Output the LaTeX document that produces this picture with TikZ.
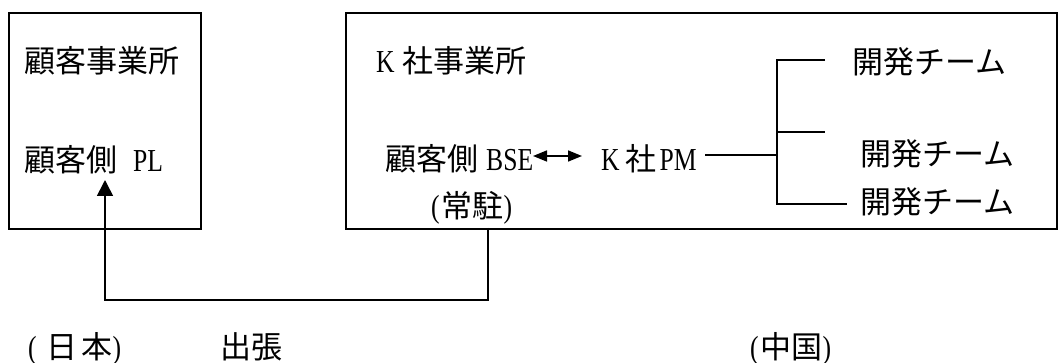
\documentclass[tikz,border=0pt]{standalone}
\usepackage{fontspec}
\setmainfont{Liberation Serif}
\newfontfamily\jp{Noto Sans CJK JP}
\newfontfamily\lat[FakeStretch=0.8]{Liberation Serif}
\newcommand\latsz{\lat\fontsize{32}{38}\selectfont}
\newcommand\J[1]{{\jp\fontsize{31}{36}\selectfont #1}}
\usetikzlibrary{arrows.meta}
\begin{document}
\begin{tikzpicture}[x=1pt,y=-1pt,
  frame/.style={draw,line width=1.6pt,inner sep=0,anchor=north west},
  lbl/.style={inner sep=0,anchor=base west},
  conn/.style={line width=1.6pt},
  uparrow/.style={conn,-{Triangle[width=16pt,length=16pt]}},
  dblarrow/.style={conn,{Triangle[width=11pt,length=14pt]}-{Triangle[width=11pt,length=14pt]}}
]
\useasboundingbox (0,0) rectangle (1059,363);
% boxes
\node[frame,minimum width=192pt,minimum height=216pt] (lbox) at (8,12) {};
\node[frame,minimum width=711pt,minimum height=216pt] (rbox) at (345,12) {};
% left box texts
\node[lbl] (t1) at (24,73) {\J{顧客事業所}};
\node[lbl] (pl) at (24,172) {\latsz\J{顧客側}\hspace{16pt}PL};
% right box texts
\node[lbl] (t3) at (376,73) {\latsz K\hspace{8pt}\J{社事業所}};
\node[lbl] (bse) at (385,171) {\latsz\J{顧客側}\hspace{8pt}BSE};
\node[lbl] (pm) at (601,171) {\latsz K\hspace{6pt}\J{社}\hspace{3pt}PM};
\node[lbl] (jc) at (431,218) {\latsz(\hspace{2pt}\J{常駐})};
\node[lbl] (team1) at (852,74) {\J{開発チーム}};
\node[lbl] (team2) at (860,166) {\J{開発チーム}};
\node[lbl] (team3) at (860,214) {\J{開発チーム}};
% bottom labels
\node[lbl] (japan) at (28,358) {\latsz(\hspace{10pt}\J{日}\hspace{4pt}\J{本})};
\node[lbl] (trip) at (220,358) {\J{出張}};
\node[lbl] (china) at (750,358) {\latsz(\hspace{2pt}\J{中国})};
% coordinates
\coordinate (bseL) at (533,156);
\coordinate (pmR) at (582,156);
\coordinate (pmOut) at (705,155);
\coordinate (fork) at (777,155);
\coordinate (forkTop) at (777,60);
\coordinate (forkMid) at (777,132);
\coordinate (forkBot) at (777,204);
\coordinate (endTop) at (825,60);
\coordinate (endMid) at (825,132);
\coordinate (endBot) at (847,204);
\coordinate (down0) at (488,228);
\coordinate (down1) at (488,300);
\coordinate (left1) at (105,300);
\coordinate (pltip) at (105,180);
% connectors
\draw[dblarrow] (bseL) -- (pmR);
\draw[conn] (pmOut) -- (fork);
\draw[conn] (endTop) -- (forkTop) -- (forkBot) -- (endBot);
\draw[conn] (forkMid) -- (endMid);
\draw[uparrow] (down0) -- (down1) -- (left1) -- (pltip);
\end{tikzpicture}
\end{document}
